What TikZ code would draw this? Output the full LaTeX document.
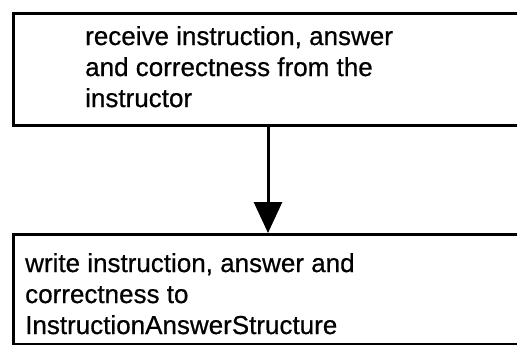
\documentclass[tikz,border=0pt]{standalone}
\usepackage{fontspec}
\setmainfont{Liberation Sans}
\newfontfamily\boxfont{Liberation Sans}[FakeBold=0.6]
\usetikzlibrary{arrows.meta}
\begin{document}
\begin{tikzpicture}[x=1pt,y=-1pt,
  box/.style={draw, line width=3pt, rectangle, inner sep=0pt, anchor=north west},
  boxtext/.style={font=\boxfont\fontsize{26}{31}\selectfont, align=left, anchor=north west, inner sep=0pt},
  flow/.style={line width=3pt, -{Triangle[length=31pt,width=28pt]}}]
\useasboundingbox (0,0) rectangle (517,345);
% the two process boxes run off the right edge
\node[box, minimum width=530pt, minimum height=112pt] (recv) at (12,12) {};
\node[box, minimum width=530pt, minimum height=110pt] (write) at (12,233) {};
% box texts
\node[boxtext] (recvtext) at (85,26) {receive instruction, answer\\and correctness from the\\instructor};
\node[boxtext] (writetext) at (25,253) {write instruction, answer and\\correctness to\\InstructionAnswerStructure};
% flow between the boxes
\coordinate (axis) at (268,0);
\draw[flow] (recv.south -| axis) -- (write.north -| axis);
\end{tikzpicture}
\end{document}
